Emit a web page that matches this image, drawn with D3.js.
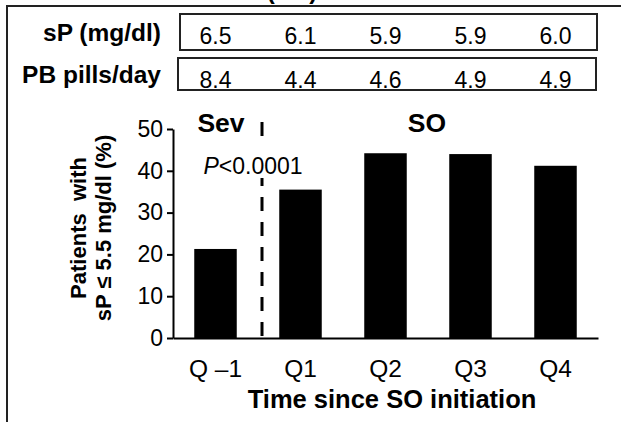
<!DOCTYPE html>
<html>
<head>
<meta charset="utf-8">
<script src="https://cdn.jsdelivr.net/npm/d3@7"></script>
<style>
  html, body { margin: 0; padding: 0; background: #fff; }
  svg { display: block; font-family: "Liberation Sans", Arial, Helvetica, sans-serif; }
</style>
</head>
<body>
<svg id="chart" width="621" height="422"></svg>
<script>
const categories = ["Q \u20131", "Q1", "Q2", "Q3", "Q4"];
const pctValues = [21.3, 35.5, 44.2, 44.0, 41.2];
const spValues = ["6.5", "6.1", "5.9", "5.9", "6.0"];
const pbValues = ["8.4", "4.4", "4.6", "4.9", "4.9"];
const yTicks = [0, 10, 20, 30, 40, 50];
const rowLabels = ["sP (mg/dl)", "PB pills/day"];

const svg = d3.select("#chart");

// frame (partial, cropped)
svg.append("line").attr("x1", 7).attr("x2", 621).attr("y1", 6).attr("y2", 6)
  .attr("stroke", "#222").attr("stroke-width", 2);
svg.append("line").attr("x1", 7).attr("x2", 7).attr("y1", 5).attr("y2", 422)
  .attr("stroke", "#222").attr("stroke-width", 2);
// cropped heading above the frame (only its lowest strokes show, as in the reference)
svg.append("text").attr("x", 292).attr("y", -1).attr("text-anchor", "middle")
  .attr("font-size", 24).attr("font-weight", "bold").text("(SO)");

const x = d3.scaleBand().domain(categories).range([173, 598]).paddingInner(0.5).paddingOuter(0.25);
const y = d3.scaleLinear().domain([0, 50]).range([338, 129]);

// table rows
const rows = [
  { label: rowLabels[0], vals: spValues, box: [180, 14, 597, 50], lb: 41, vb: 44 },
  { label: rowLabels[1], vals: pbValues, box: [178, 58, 596, 90], lb: 83, vb: 88 }
];
rows.forEach(r => {
  svg.append("rect").attr("x", r.box[0]).attr("y", r.box[1])
    .attr("width", r.box[2] - r.box[0]).attr("height", r.box[3] - r.box[1])
    .attr("fill", "none").attr("stroke", "#222").attr("stroke-width", 2);
  svg.append("text").attr("x", 161).attr("y", r.lb).attr("text-anchor", "end")
    .attr("font-size", 24.5).attr("font-weight", "bold").text(r.label);
  svg.selectAll(null).data(r.vals.map((v, i) => ({ v, c: categories[i] }))).enter()
    .append("text")
    .attr("x", d => x(d.c) + x.bandwidth() / 2)
    .attr("y", r.vb)
    .attr("text-anchor", "middle").attr("font-size", 23)
    .text(d => d.v);
});

// bars
svg.selectAll(".bar").data(pctValues.map((v, i) => ({ v, c: categories[i] }))).enter()
  .append("rect").attr("class", "bar")
  .attr("x", d => x(d.c)).attr("width", x.bandwidth())
  .attr("y", d => y(d.v)).attr("height", d => y(0) - y(d.v))
  .attr("fill", "#000");

// dashed separator
const sepX = (x(categories[0]) + x(categories[1]) + x.bandwidth()) / 2 + 4;
svg.append("line").attr("x1", sepX).attr("x2", sepX).attr("y1", 122).attr("y2", y(0))
  .attr("stroke", "#000").attr("stroke-width", 3).attr("stroke-dasharray", "14,11");

// y axis
const yAxis = svg.append("g").attr("transform", "translate(173,0)")
  .call(d3.axisLeft(y).tickValues(yTicks).tickSize(6).tickPadding(4).tickSizeOuter(0));
yAxis.select(".domain").attr("stroke", "#000").attr("stroke-width", 2);
yAxis.selectAll(".tick line").attr("stroke", "#000").attr("stroke-width", 2);
yAxis.selectAll(".tick text").attr("font-size", 23).attr("fill", "#000")
  .attr("font-family", "Liberation Sans, Arial, sans-serif");

// x axis
const xAxis = svg.append("g").attr("transform", "translate(0,338)")
  .call(d3.axisBottom(x).tickSize(0).tickPadding(22).tickSizeOuter(0));
xAxis.select(".domain").attr("stroke", "#000").attr("stroke-width", 2);
xAxis.selectAll(".tick text").attr("font-size", 24.5).attr("fill", "#000")
  .attr("font-family", "Liberation Sans, Arial, sans-serif");

// P value annotation with white box
svg.append("rect").attr("x", 198).attr("y", 141).attr("width", 110).attr("height", 37).attr("fill", "#fff");
const pt = svg.append("text").attr("x", 253).attr("y", 174).attr("text-anchor", "middle").attr("font-size", 23);
pt.append("tspan").attr("font-style", "italic").text("P");
pt.append("tspan").text("<0.0001");

// group labels
svg.append("text").attr("x", 221).attr("y", 132).attr("text-anchor", "middle")
  .attr("font-size", 26.5).attr("font-weight", "bold").text("Sev");
svg.append("text").attr("x", 427).attr("y", 132).attr("text-anchor", "middle")
  .attr("font-size", 26.5).attr("font-weight", "bold").text("SO");

// axis titles
svg.append("text").attr("x", 392).attr("y", 408).attr("text-anchor", "middle")
  .attr("font-size", 25.5).attr("font-weight", "bold").text("Time since SO initiation");
const yt = svg.append("text").attr("transform", "translate(86,228) rotate(-90)")
  .attr("text-anchor", "middle").attr("font-size", 22).attr("font-weight", "bold");
yt.append("tspan").attr("x", 0).attr("y", 0).attr("xml:space", "preserve").text("Patients  with");
yt.append("tspan").attr("x", 0).attr("y", 25).text("sP \u2264 5.5 mg/dl (%)");
</script>
</body>
</html>
